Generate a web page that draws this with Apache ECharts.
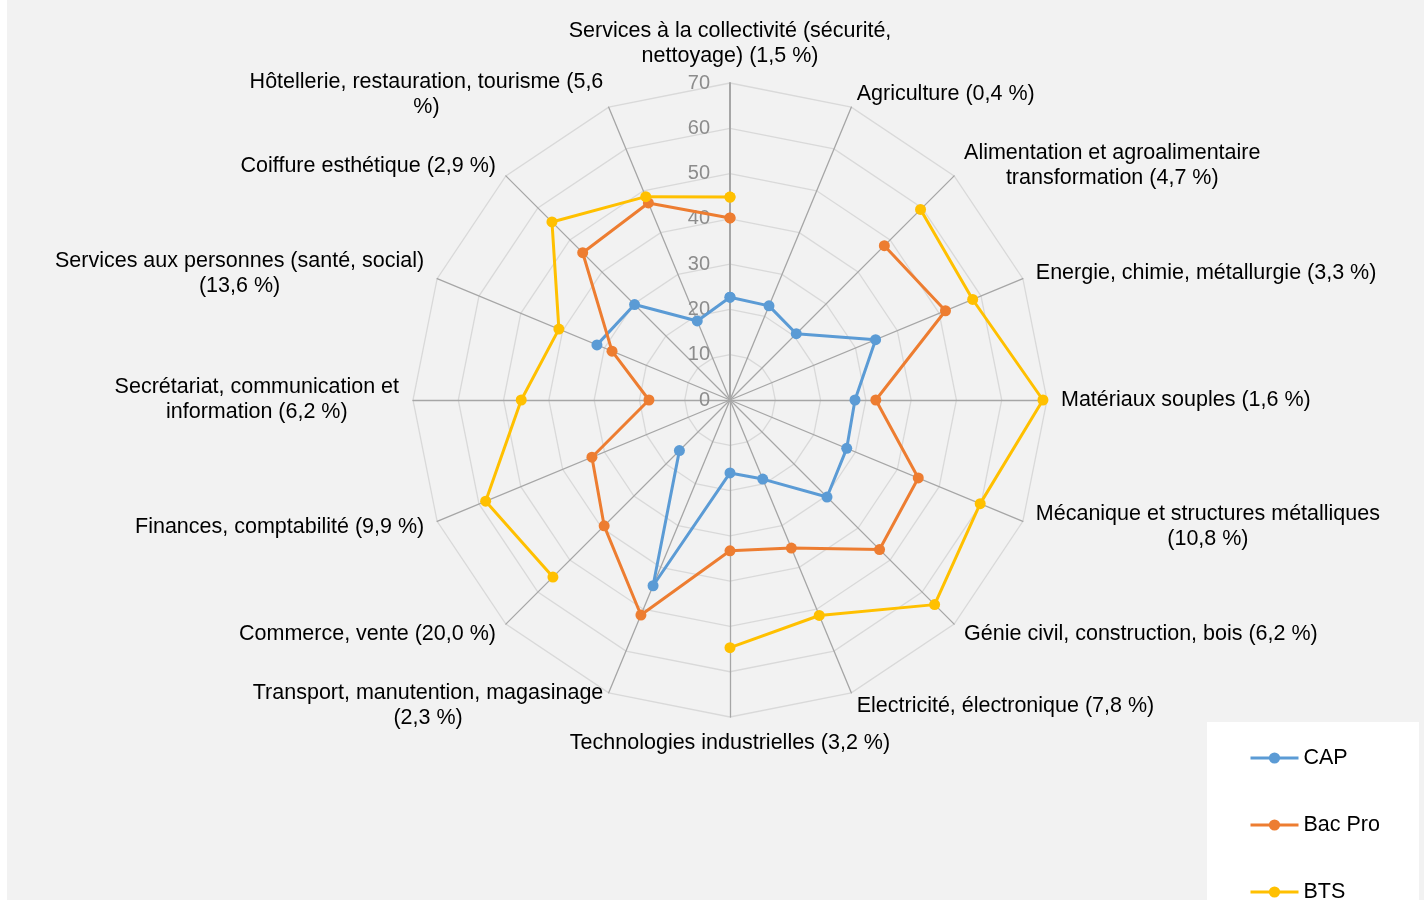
<!DOCTYPE html>
<html>
<head>
<meta charset="utf-8">
<script src="https://cdn.jsdelivr.net/npm/echarts@6/dist/echarts.min.js"></script>
<style>
html, body { margin: 0; padding: 0; background: #fff; }
#chart { width: 1424px; height: 900px; }
</style>
</head>
<body>
<div id="chart"></div>
<script>
// secteurs (axes du radar), dans le sens horaire depuis le haut
const categories = [
    'Services à la collectivité (sécurité,\nnettoyage) (1,5 %)',
    'Agriculture (0,4 %)',
    'Alimentation et agroalimentaire\ntransformation (4,7 %)',
    'Energie, chimie, métallurgie (3,3 %)',
    'Matériaux souples (1,6 %)',
    'Mécanique et structures métalliques\n(10,8 %)',
    'Génie civil, construction, bois (6,2 %)',
    'Electricité, électronique (7,8 %)',
    'Technologies industrielles (3,2 %)',
    'Transport, manutention, magasinage\n(2,3 %)',
    'Commerce, vente (20,0 %)',
    'Finances, comptabilité (9,9 %)',
    'Secrétariat, communication et\ninformation (6,2 %)',
    'Services aux personnes (santé, social)\n(13,6 %)',
    'Coiffure esthétique (2,9 %)',
    'Hôtellerie, restauration, tourisme (5,6\n%)'
];

const seriesNames = ['CAP', 'Bac Pro', 'BTS'];

// null = pas de valeur (trou dans la ligne)
const capValues = [22.7, 22.5, 20.7, 34.8, 27.6, 27.9, 30.3, 18.9, 16.1, 44.4, 15.8, null, null, 31.8, 29.8, 18.9];
const bacProValues = [40.2, null, 48.2, 51.5, 32.2, 45.0, 46.7, 35.4, 33.3, 51.4, 39.3, 33.0, 17.9, 28.2, 46.0, 47.1];
const btsValues = [44.8, null, 59.5, 58.0, 69.1, 59.8, 63.9, 51.5, 54.7, null, 55.3, 58.4, 46.1, 40.9, 55.6, 48.6];

const axisMax = 70;
const axisSplits = 7;

const colors = ['#5b9bd5', '#ed7d31', '#ffc000'];
const center = [730, 400];
const radius = 317;
const font = 'Liberation Sans, Arial, sans-serif';

// points [rayon, angle] pour le repère polaire, on referme la boucle sur l'angle 16
function toPolar(values) {
    const pts = values.map((v, i) => [v == null ? '-' : v, i]);
    pts.push([values[0] == null ? '-' : values[0], categories.length]);
    return pts;
}

const chart = echarts.init(document.getElementById('chart'));

// le radar d'echarts tourne dans le sens anti-horaire : on inverse l'ordre
const n = categories.length;
const indicators = categories.map((_, k) => {
    const ind = { name: categories[(n - k) % n], min: 0, max: axisMax };
    if (k === 0) {
        ind.axisLabel = { show: true, color: '#8c8c8c', fontSize: 20, fontFamily: font, margin: 20, padding: [3, 0, 0, 0] };
        ind.axisLine = { lineStyle: { color: '#a6a6a6', width: 2 } };
    }
    return ind;
});

const option = {
    backgroundColor: '#f2f2f2',
    animation: false,
    graphic: [
        { type: 'rect', left: 0, top: 0, shape: { width: 7, height: 900 }, style: { fill: '#ffffff' }, z: 0 },
        { type: 'rect', left: 1207, top: 722, shape: { width: 212, height: 200 }, style: { fill: '#ffffff' }, z: 0 }
    ],
    radar: {
        center: center,
        radius: radius,
        startAngle: 90,
        splitNumber: axisSplits,
        shape: 'polygon',
        indicator: indicators,
        axisName: {
            color: '#000',
            fontSize: 21.5,
            fontFamily: font,
            lineHeight: 25,
            formatter: name => name.split('\n').map(l => '{c|' + l + '}').join('\n'),
            rich: {
                c: { align: 'center', color: '#000', fontSize: 21.5, fontFamily: font, lineHeight: 25 }
            }
        },
        axisNameGap: 14,
        axisLine: { lineStyle: { color: '#a6a6a6', width: 1.3 } },
        splitLine: { lineStyle: { color: '#d9d9d9', width: 1.3 } },
        splitArea: { show: false },
        axisLabel: { show: false }
    },
    polar: { center: center, radius: radius },
    angleAxis: {
        type: 'value', min: 0, max: n, startAngle: 90, clockwise: true,
        show: false, axisLine: { show: false }, axisLabel: { show: false }, splitLine: { show: false }, axisTick: { show: false }
    },
    radiusAxis: {
        type: 'value', min: 0, max: axisMax,
        show: false, axisLine: { show: false }, axisLabel: { show: false }, splitLine: { show: false }, axisTick: { show: false }
    },
    legend: {
        data: seriesNames,
        orient: 'vertical',
        left: 1249,
        top: 747,
        height: 300,
        padding: 0,
        itemWidth: 48,
        itemHeight: 14,
        itemGap: 45,
        lineStyle: { width: 3 },
        textStyle: { color: '#000', fontSize: 21.5, fontFamily: font }
    },
    series: [capValues, bacProValues, btsValues].map((vals, i) => ({
        name: seriesNames[i],
        type: 'line',
        coordinateSystem: 'polar',
        data: toPolar(vals),
        connectNulls: false,
        symbol: 'circle',
        symbolSize: 11,
        color: colors[i],
        lineStyle: { width: 3, color: colors[i] },
        itemStyle: { color: colors[i] }
    }))
};

chart.setOption(option);
</script>
</body>
</html>
